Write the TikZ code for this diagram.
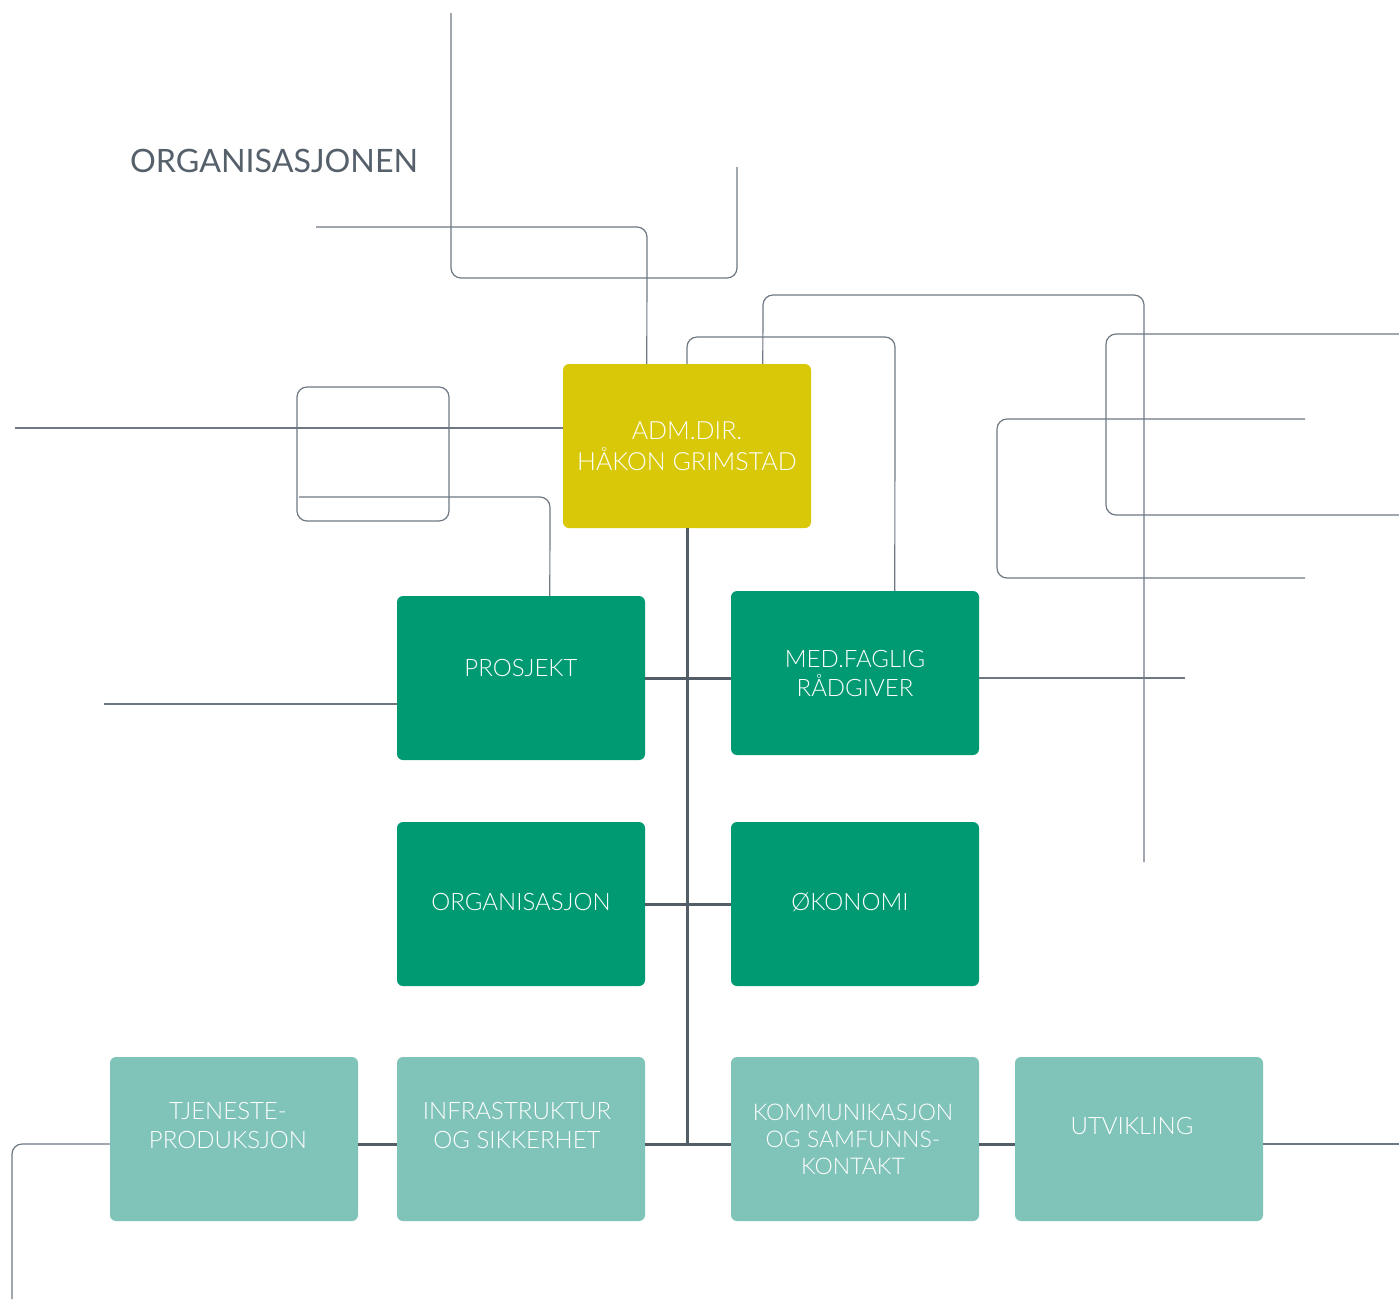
\documentclass[tikz,border=0pt]{standalone}
\usepackage{fontspec}
\setmainfont{Lato Light}
\newfontfamily\headingfont{Lato}
\begin{document}
\begin{tikzpicture}[x=1pt,y=-1pt,
  thin line/.style={draw=thinc, line width=1.2pt, rounded corners=10pt},
  thick line/.style={draw=thickc, line width=3pt},
  unit/.style={rounded corners=6pt, minimum width=248pt, minimum height=164pt, inner sep=0pt},
  head/.style={unit, fill=headc},
  mid/.style={unit, fill=midc},
  low/.style={unit, fill=lowc},
  lbl/.style={text=white, font=\fontsize{24pt}{29pt}\selectfont, align=center},
]
\definecolor{thinc}{HTML}{6E7882}
\definecolor{thickc}{HTML}{525D68}
\definecolor{headc}{HTML}{D9C808}
\definecolor{midc}{HTML}{009A72}
\definecolor{lowc}{HTML}{80C3B8}
\definecolor{titlec}{HTML}{55606B}
\useasboundingbox (0,0) rectangle (1399,1299);

% title
\node[anchor=west, text=titlec, font=\headingfont\fontsize{32.2pt}{36pt}\selectfont, inner sep=0pt] (title) at (130,161) {ORGANISASJONEN};

% boxes
\node[head] (adm) at (687,446) {};
\node[mid] (prosjekt) at (521,678) {};
\node[mid] (medfaglig) at (855,673) {};
\node[mid] (org) at (521,904) {};
\node[mid] (okonomi) at (855,904) {};
\node[low] (tjeneste) at (234,1139) {};
\node[low] (infra) at (521,1139) {};
\node[low] (komm) at (855,1139) {};
\node[low] (utv) at (1139,1139) {};

% box texts
\node[lbl, font=\fontsize{25pt}{31pt}\selectfont] (admtxt) at (adm.center) {ADM.DIR.\\HÅKON GRIMSTAD};
\node[lbl] (prosjekttxt) at ([yshift=10pt]prosjekt.center) {PROSJEKT};
\node[lbl] (medtxt) at (medfaglig.center) {MED.FAGLIG\\RÅDGIVER};
\node[lbl] (orgtxt) at ([yshift=2pt]org.center) {ORGANISASJON};
\node[lbl] (okotxt) at ([xshift=-5pt,yshift=2pt]okonomi.center) {ØKONOMI};
\node[lbl] (tjtxt) at ([xshift=-6pt,yshift=14pt]tjeneste.center) {TJENESTE-\\PRODUKSJON};
\node[lbl] (inftxt) at ([xshift=-4pt,yshift=14pt]infra.center) {INFRASTRUKTUR\\OG SIKKERHET};
\node[lbl, font=\fontsize{23pt}{27pt}\selectfont] (kommtxt) at ([xshift=-2pt]komm.center) {KOMMUNIKASJON\\OG SAMFUNNS-\\KONTAKT};
\node[lbl] (utvtxt) at ([xshift=-7pt,yshift=13pt]utv.center) {UTVIKLING};

% free ends of the thin lines
\coordinate (a0) at (451,13);
\coordinate (a1) at (737,167);
\coordinate (b0) at (316,227);
\coordinate (c0) at (15,428);
\coordinate (d0) at (299,497);
\coordinate (e0) at (1144,862);
\coordinate (f0) at (1399,334);
\coordinate (f1) at (1399,515);
\coordinate (g0) at (1305,419);
\coordinate (g1) at (1305,578);
\coordinate (h0) at (104,704);
\coordinate (i0) at (1185,678);
\coordinate (j0) at (12,1299);
\coordinate (k0) at (1399,1144);

% thin lines
\draw[thin line] (a0) -- (451,278) -- (737,278) -- (a1);
\draw[thin line] (b0) -- (647,227) -- ([xshift=84pt]adm.north west);
\draw[thin line] (297,387) rectangle (449,521);
\draw[thin line] (c0) -- ([yshift=18pt]adm.west);
\draw[thin line] (d0) -- (550,497) -- ([xshift=153pt]prosjekt.north west);
\draw[thin line] (adm.north) -- (687,337) -- (895,337) -- ([xshift=164pt]medfaglig.north west);
\draw[thin line] ([xshift=200pt]adm.north west) -- (763,295) -- (1144,295) -- (e0);
\draw[thin line] (f0) -- (1106,334) -- (1106,515) -- (f1);
\draw[thin line] (g0) -- (997,419) -- (997,578) -- (g1);
\draw[thin line] (h0) -- ([yshift=-26pt]prosjekt.west);
\draw[thin line] ([yshift=-5pt]medfaglig.east) -- (i0);
\draw[thin line] ([yshift=-5pt]tjeneste.west) -- (12,1144) -- (j0);
\draw[thin line] ([yshift=-5pt]utv.east) -- (k0);

% main connectors
\coordinate (spine) at (687,1144);
\draw[thick line] (adm.south) -- (spine);
\draw[thick line] (prosjekt.east) -- (prosjekt.east -| medfaglig.west);
\draw[thick line] (org.east) -- (okonomi.west);
\draw[thick line] ([yshift=-5pt]tjeneste.east) -- ([yshift=-5pt]infra.west);
\draw[thick line] ([yshift=-5pt]infra.east) -- ([yshift=-5pt]komm.west);
\draw[thick line] ([yshift=-5pt]komm.east) -- ([yshift=-5pt]utv.west);
\end{tikzpicture}
\end{document}
